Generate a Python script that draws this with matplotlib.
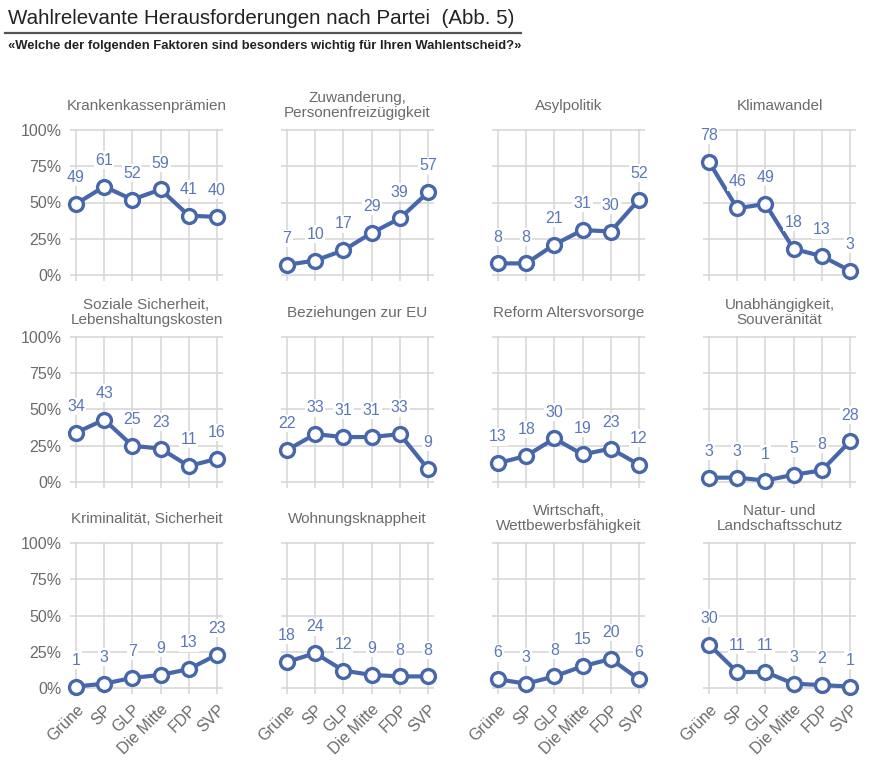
import matplotlib
matplotlib.use("Agg")
import matplotlib.pyplot as plt
from matplotlib.lines import Line2D

plt.rcParams['font.family'] = ['Liberation Sans', 'DejaVu Sans']

parties = ["Grüne", "SP", "GLP", "Die Mitte", "FDP", "SVP"]

titles = [
    "Krankenkassenprämien", "Zuwanderung,\nPersonenfreizügigkeit", "Asylpolitik", "Klimawandel",
    "Soziale Sicherheit,\nLebenshaltungskosten", "Beziehungen zur EU", "Reform Altersvorsorge",
    "Unabhängigkeit,\nSouveränität",
    "Kriminalität, Sicherheit", "Wohnungsknappheit", "Wirtschaft,\nWettbewerbsfähigkeit",
    "Natur- und\nLandschaftsschutz",
]

krankenkassen = [49, 61, 52, 59, 41, 40]
zuwanderung = [7, 10, 17, 29, 39, 57]
asyl = [8, 8, 21, 31, 30, 52]
klima = [78, 46, 49, 18, 13, 3]
soziale = [34, 43, 25, 23, 11, 16]
eu = [22, 33, 31, 31, 33, 9]
altersvorsorge = [13, 18, 30, 19, 23, 12]
unabhaengigkeit = [3, 3, 1, 5, 8, 28]
kriminalitaet = [1, 3, 7, 9, 13, 23]
wohnung = [18, 24, 12, 9, 8, 8]
wirtschaft = [6, 3, 8, 15, 20, 6]
natur = [30, 11, 11, 3, 2, 1]

series = [krankenkassen, zuwanderung, asyl, klima,
          soziale, eu, altersvorsorge, unabhaengigkeit,
          kriminalitaet, wohnung, wirtschaft, natur]

yticks = [0, 25, 50, 75, 100]
ytick_labels = ["0%", "25%", "50%", "75%", "100%"]

W, H = 873, 768
fig = plt.figure(figsize=(W / 100, H / 100), dpi=100)

line_col = "#4767aa"
label_col = "#5b78b8"
grid_col = "#d4d4d4"
text_gray = "#6b6b6b"

# pixel layout
x_first = [76, 287, 498, 709]
x_span = 141
y_top100 = [130, 337, 543]
y_span = 145
xlo, xhi = -0.22, 5.22
ylo, yhi = -4, 101

for i, (title, vals) in enumerate(zip(titles, series)):
    r, c = divmod(i, 4)
    pxu = x_span / 5
    pyu = y_span / 100
    left = x_first[c] + xlo * pxu
    right = x_first[c] + xhi * pxu
    top = y_top100[r] - (yhi - 100) * pyu
    bottom = y_top100[r] + y_span - ylo * pyu
    ax = fig.add_axes([left / W, 1 - bottom / H, (right - left) / W, (bottom - top) / H])
    ax.set_xlim(xlo, xhi)
    ax.set_ylim(ylo, yhi)
    for s in ax.spines.values():
        s.set_visible(False)
    for y in yticks:
        ax.axhline(y, color=grid_col, lw=1.1, zorder=0)
    for x in range(len(parties)):
        ax.axvline(x, color=grid_col, lw=1.1, zorder=0)
    ax.plot(range(len(vals)), vals, color=line_col, lw=3, marker='o', ms=10,
            mfc='white', mec=line_col, mew=2.4, zorder=3, clip_on=False)
    for x, v in enumerate(vals):
        ax.annotate(str(v), (x, v), xytext=(0, 19), textcoords='offset points',
                    ha='center', va='center', fontsize=11.5, color=label_col, zorder=5,
                    bbox=dict(boxstyle='square,pad=0.08', fc='white', ec='none'))
    ax.set_yticks(yticks)
    ax.set_xticks(range(len(parties)))
    ax.tick_params(length=0, pad=6)
    if c == 0:
        ax.set_yticklabels(ytick_labels, fontsize=11.5, color=text_gray)
    else:
        ax.set_yticklabels([])
    if r == 2:
        ax.set_xticklabels(parties, rotation=45, ha='right', rotation_mode='anchor',
                           fontsize=11.5, color=text_gray)
    else:
        ax.set_xticklabels([])
    # panel title, 23 px above the top of the panel
    ax.text(2.5, 1 + 23 / (bottom - top), title, transform=ax.get_xaxis_transform(),
            ha='center', va='center', fontsize=11, color=text_gray, linespacing=1.15)

fig.text(8 / W, 1 - 18 / H, "Wahlrelevante Herausforderungen nach Partei  (Abb. 5)",
         fontsize=14.8, color="#222222", va='center', ha='left')
fig.add_artist(Line2D([5 / W, 521 / W], [1 - 33 / H, 1 - 33 / H], color="#555555", lw=1.6))
fig.text(8 / W, 1 - 46 / H,
         "«Welche der folgenden Faktoren sind besonders wichtig für Ihren Wahlentscheid?»",
         fontsize=9.4, fontweight='bold', color="#222222", va='center', ha='left')

fig.savefig("out.png", dpi=100, facecolor='white')
